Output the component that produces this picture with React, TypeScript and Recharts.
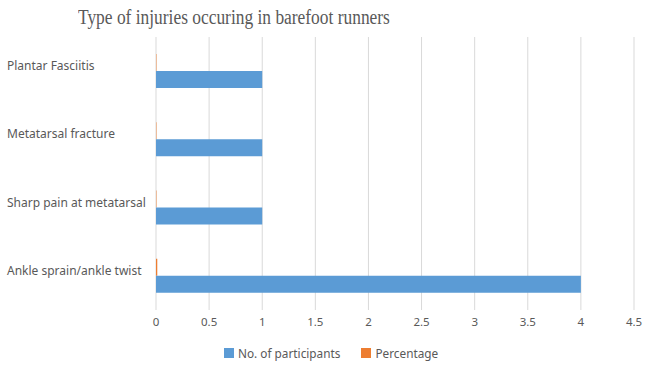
import { BarChart, Bar, XAxis, YAxis, CartesianGrid } from "recharts";

const categories = ["Plantar Fasciitis", "Metatarsal fracture", "Sharp pain at metatarsal", "Ankle sprain/ankle twist"];
const participants = [1, 1, 1, 4];
const percentage = [0.004, 0.004, 0.004, 0.012];
const xTicks = [0, 0.5, 1, 1.5, 2, 2.5, 3, 3.5, 4, 4.5];

const data = categories.map((name, i) => ({ name, participants: participants[i], percentage: percentage[i] }));

const BLUE = "#5b9bd5";
const ORANGE = "#ed7d31";
const TEXT = "#595959";
const FONT = "'Noto Sans', sans-serif";

function CategoryTick({ y, payload }: any) {
  return (
    <text x={7} y={y} dy={-1} textAnchor="start" fill={TEXT} fontSize={12} fontFamily={FONT}>
      {payload.value}
    </text>
  );
}

export default function App() {
  return (
    <div style={{ position: "absolute", left: 0, top: 0, width: 650, height: 369, background: "#fff" }}>
      <div style={{ position: "absolute", left: 78, top: 6, fontFamily: "'Liberation Serif', serif", fontSize: 20, color: TEXT, whiteSpace: "nowrap", transform: "scaleX(0.87)", transformOrigin: "left top" }}>
        Type of injuries occuring in barefoot runners
      </div>
      <BarChart width={650} height={369} data={data} layout="vertical" barSize={17} barGap={0} barCategoryGap="25%"
        margin={{ top: 37, right: 16, left: 0, bottom: 29 }}>
        <CartesianGrid horizontal={false} stroke="#d9d9d9" />
        <XAxis type="number" domain={[0, 4.5]} ticks={xTicks} axisLine={false} tickLine={false} tickMargin={2} height={30}
          tick={{ fontSize: 11.5, fill: TEXT, fontFamily: FONT }} />
        <YAxis type="category" dataKey="name" width={156} axisLine={false} tickLine={false} tick={<CategoryTick />} />
        <Bar dataKey="percentage" fill={ORANGE} isAnimationActive={false} />
        <Bar dataKey="participants" fill={BLUE} isAnimationActive={false} />
      </BarChart>
      <div style={{ position: "absolute", top: 345, left: 224, display: "flex", alignItems: "center", fontFamily: FONT, fontSize: 11.8, color: TEXT }}>
        <span style={{ width: 10, height: 10, background: BLUE, display: "inline-block", marginRight: 4 }} />
        <span style={{ marginRight: 21 }}>No. of participants</span>
        <span style={{ width: 10, height: 10, background: ORANGE, display: "inline-block", marginRight: 4 }} />
        <span>Percentage</span>
      </div>
    </div>
  );
}
